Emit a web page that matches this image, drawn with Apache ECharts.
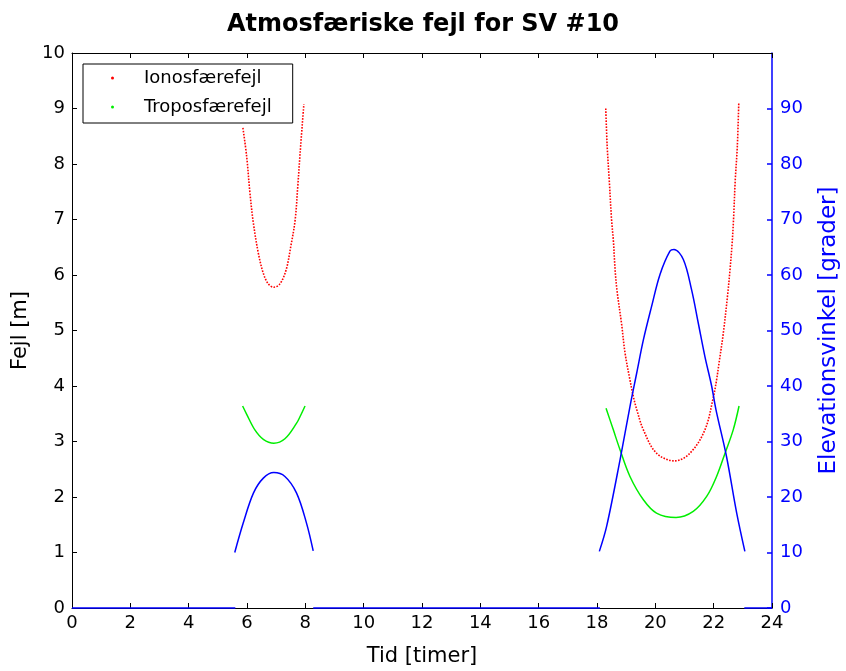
<!DOCTYPE html>
<html>
<head>
<meta charset="utf-8">
<script src="https://cdn.jsdelivr.net/npm/echarts@6/dist/echarts.min.js"></script>
<style>
  html, body { margin: 0; padding: 0; background: #fff; }
  #chart { width: 846px; height: 671px; }
</style>
</head>
<body>
<div id="chart"></div>
<script>
// ---- Data ----
const xTicks = [0, 2, 4, 6, 8, 10, 12, 14, 16, 18, 20, 22, 24];
const leftTicks = [0, 1, 2, 3, 4, 5, 6, 7, 8, 9, 10];
const rightTicks = [0, 10, 20, 30, 40, 50, 60, 70, 80, 90];

// Ionosfærefejl [m] (time [h], value)
const ionoArc1 = [
  [5.86, 8.65], [5.99, 8.13], [6.10, 7.48], [6.22, 6.93], [6.39, 6.39],
  [6.56, 6.03], [6.73, 5.84], [6.92, 5.78], [7.13, 5.84], [7.34, 6.09],
  [7.50, 6.51], [7.65, 6.99], [7.74, 7.59], [7.82, 8.19], [7.95, 9.08]
];
const ionoArc2 = [
  [18.30, 9.00], [18.35, 8.31], [18.42, 7.71], [18.50, 6.99], [18.56, 6.63],
  [18.62, 6.10], [18.69, 5.70], [18.84, 5.13], [18.96, 4.60], [19.13, 4.11],
  [19.25, 3.80], [19.36, 3.58], [19.59, 3.21], [20.04, 2.79], [20.67, 2.65],
  [21.19, 2.79], [21.70, 3.21], [21.99, 3.80], [22.10, 4.11], [22.18, 4.40],
  [22.33, 4.95], [22.48, 5.65], [22.56, 6.09], [22.63, 6.55], [22.68, 6.99],
  [22.74, 7.71], [22.81, 8.31], [22.86, 9.09]
];
// Troposfærefejl [m]
const tropoArc1 = [
  [5.85, 3.64], [5.99, 3.49], [6.27, 3.21], [6.56, 3.04], [6.92, 2.97],
  [7.30, 3.05], [7.70, 3.33], [7.82, 3.45], [7.99, 3.64]
];
const tropoArc2 = [
  [18.31, 3.60], [18.56, 3.21], [18.79, 2.85], [19.13, 2.37], [19.59, 1.95],
  [20.04, 1.71], [20.71, 1.63], [21.30, 1.74], [21.76, 2.01], [22.10, 2.37],
  [22.39, 2.79], [22.67, 3.21], [22.87, 3.64]
];
// Elevationsvinkel [grader]
const elevZero1 = [[0, 0], [5.60, 0]];
const elevArc1 = [
  [5.58, 10.0], [5.87, 15.3], [6.22, 20.7], [6.56, 23.4], [6.92, 24.4],
  [7.30, 23.7], [7.70, 20.7], [8.04, 15.3], [8.27, 10.3]
];
const elevZero2 = [[8.27, 0], [18.10, 0]];
const elevArc2 = [
  [18.08, 10.2], [18.33, 14.7], [18.79, 26.7], [19.13, 36.3], [19.36, 42.3],
  [19.59, 48.3], [19.87, 54.3], [20.16, 60.1], [20.50, 64.3], [20.64, 64.6],
  [20.96, 62.8], [21.24, 57.4], [21.47, 51.4], [21.70, 45.3], [21.93, 40.0],
  [22.08, 35.7], [22.44, 27.3], [22.79, 17.1], [23.07, 10.2]
];
const elevZero3 = [[23.05, 0], [24, 0]];

const FONT = 'DejaVu Sans';
const chart = echarts.init(document.getElementById('chart'), null, { renderer: 'canvas' });

function ionoSeries(data) {
  return {
    name: 'Ionosfærefejl', type: 'line', data: data, xAxisIndex: 0, yAxisIndex: 0,
    showSymbol: false, symbol: 'none', smooth: 0.35, z: 2,
    itemStyle: { color: '#ff0000' },
    lineStyle: { color: '#ff0000', width: 1.6, type: [1.6, 1.4] }
  };
}
function tropoSeries(data) {
  return {
    name: 'Troposfærefejl', type: 'line', data: data, xAxisIndex: 0, yAxisIndex: 0,
    showSymbol: false, symbol: 'none', smooth: 0.35, z: 2,
    itemStyle: { color: '#00ee00' },
    lineStyle: { color: '#00ee00', width: 1.5 }
  };
}
function elevSeries(data) {
  return {
    name: 'Elevation', type: 'line', data: data, xAxisIndex: 0, yAxisIndex: 1,
    showSymbol: false, symbol: 'none', smooth: 0.35, clip: false, z: 3,
    lineStyle: { color: '#0000ff', width: 1.5 }, itemStyle: { color: '#0000ff' }
  };
}

const option = {
  backgroundColor: '#ffffff',
  animation: false,
  title: {
    text: 'Atmosfæriske fejl for SV #10',
    left: 'center', top: 8,
    textStyle: { fontFamily: FONT, fontWeight: 'bold', fontSize: 24, color: '#000' }
  },
  legend: {
    data: ['Ionosfærefejl', 'Troposfærefejl'],
    orient: 'vertical', left: 83, top: 64,
    padding: [4, 21, 6, 28],
    itemGap: 9, itemWidth: 3, itemHeight: 3, icon: 'circle',
    borderColor: '#000', borderWidth: 1, backgroundColor: '#fff',
    textStyle: { fontFamily: FONT, fontSize: 18, color: '#000', lineHeight: 20, padding: [0, 0, 0, 25] }
  },
  grid: { left: 72, right: 74, top: 53, bottom: 63, containLabel: false, outerBoundsMode: 'none' },
  xAxis: [
    {
      type: 'value', min: 0, max: 24, interval: 2, position: 'bottom',
      name: 'Tid [timer]', nameLocation: 'middle', nameGap: 38,
      nameTextStyle: { fontFamily: FONT, fontSize: 21, color: '#000' },
      axisLine: { show: true, onZero: false, lineStyle: { color: '#000', width: 1 } },
      axisTick: { show: true, inside: true, length: 5, lineStyle: { color: '#000' } },
      axisLabel: { fontFamily: FONT, fontSize: 18, color: '#000', margin: 6 },
      splitLine: { show: false }
    },
    {
      type: 'value', min: 0, max: 24, interval: 2, position: 'top',
      axisLine: { show: true, onZero: false, lineStyle: { color: '#000', width: 1 } },
      axisTick: { show: true, inside: true, length: 5, lineStyle: { color: '#000' } },
      axisLabel: { show: false },
      splitLine: { show: false }
    }
  ],
  yAxis: [
    {
      type: 'value', min: 0, max: 10, interval: 1, position: 'left',
      name: 'Fejl [m]', nameLocation: 'middle', nameGap: 37, nameRotate: 90,
      nameTextStyle: { fontFamily: FONT, fontSize: 21, color: '#000' },
      axisLine: { show: true, onZero: false, lineStyle: { color: '#000', width: 1 } },
      axisTick: { show: true, inside: true, length: 5, lineStyle: { color: '#000' } },
      axisLabel: { fontFamily: FONT, fontSize: 18, color: '#000', margin: 7 },
      splitLine: { show: false }
    },
    {
      type: 'value', min: 0, max: 100, interval: 10, position: 'right',
      name: 'Elevationsvinkel [grader]', nameLocation: 'middle', nameGap: 46, nameRotate: 90,
      nameTextStyle: { fontFamily: FONT, fontSize: 23, color: '#0000ff' },
      axisLine: { show: true, onZero: false, lineStyle: { color: '#0000ff', width: 1.5 } },
      axisTick: { show: true, inside: true, length: 5, customValues: rightTicks, lineStyle: { color: '#0000ff', width: 1.5 } },
      axisLabel: { fontFamily: FONT, fontSize: 18, color: '#0000ff', margin: 8, customValues: rightTicks },
      splitLine: { show: false }
    }
  ],
  series: [
    ionoSeries(ionoArc1), ionoSeries(ionoArc2),
    tropoSeries(tropoArc1), tropoSeries(tropoArc2),
    elevSeries(elevZero1), elevSeries(elevArc1), elevSeries(elevZero2),
    elevSeries(elevArc2), elevSeries(elevZero3)
  ]
};
chart.setOption(option);
</script>
</body>
</html>
